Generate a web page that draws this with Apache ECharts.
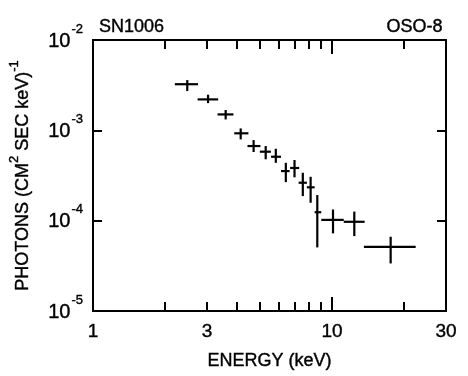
<!DOCTYPE html>
<html>
<head>
<meta charset="utf-8">
<script src="https://cdn.jsdelivr.net/npm/echarts@6/dist/echarts.min.js"></script>
<style>html,body{margin:0;padding:0;background:#fff}#chart{width:468px;height:376px}</style>
</head>
<body>
<div id="chart"></div>
<script>
// SN1006 spectrum, OSO-8
var energy     = [2.48, 3.03, 3.59, 4.15, 4.70, 5.28, 5.82, 6.41, 6.97, 7.55, 8.14, 8.68, 10.1, 12.4, 17.6];
var energyLow  = [2.20, 2.74, 3.32, 3.90, 4.43, 4.99, 5.56, 6.12, 6.68, 7.25, 7.85, 8.46, 9.02, 11.2, 13.6];
var energyHigh = [2.75, 3.34, 3.87, 4.47, 5.02, 5.55, 6.12, 6.65, 7.29, 7.85, 8.46, 9.02, 11.2, 13.7, 22.4];
var photons     = [3.24e-3, 2.2e-3, 1.5e-3, 9.27e-4, 6.7e-4, 5.8e-4, 5.1e-4, 3.54e-4, 3.83e-4, 2.63e-4, 2.34e-4, 1.24e-4, 1.02e-4, 9.72e-5, 5.14e-5];
var photonsLow  = [2.72e-3, 2.0e-3, 1.32e-3, 7.94e-4, 5.75e-4, 4.78e-4, 4.37e-4, 2.67e-4, 3.02e-4, 1.87e-4, 1.58e-4, 5.06e-5, 7.23e-5, 6.75e-5, 3.36e-5];
var photonsHigh = [3.6e-3, 2.48e-3, 1.68e-3, 1.05e-3, 7.8e-4, 6.7e-4, 6.25e-4, 4.37e-4, 4.69e-4, 3.39e-4, 3.06e-4, 1.92e-4, 1.33e-4, 1.26e-4, 6.64e-5];

var xLabels = [1, 3, 10, 30];
var xMinorTicks = [2, 3, 4, 5, 6, 7, 8, 9, 20];
var xMajorTicks = [10];
var yLabels = [1e-5, 1e-4, 1e-3, 1e-2];
var yTicks = [1e-4, 1e-3];

var FONT = '"Liberation Sans", Arial, sans-serif';
var lineStyle = { color: '#000', width: 2 };
// the original lettering is heavy, thicken the glyphs a little
var ink = { color: '#000', fontFamily: FONT, textBorderColor: '#000', textBorderWidth: 0.4 };

function txt(extra) {
    return Object.assign({}, ink, extra);
}

function xAxisCfg(pos, ticks, len, withLabels) {
    var cfg = {
        type: 'log', min: 1, max: 30, position: pos,
        axisLine: { show: true, lineStyle: lineStyle },
        axisTick: { show: true, inside: true, length: len, customValues: ticks, lineStyle: lineStyle },
        axisLabel: { show: false },
        splitLine: { show: false }
    };
    if (withLabels) {
        cfg.axisLabel = txt({
            show: true, customValues: xLabels, margin: 11, fontSize: 19,
            formatter: function (v) { return String(Math.round(v)); }
        });
        cfg.name = 'ENERGY (keV)';
        cfg.nameLocation = 'middle';
        cfg.nameGap = 41;
        cfg.nameTextStyle = txt({ fontSize: 18 });
    }
    return cfg;
}

function yAxisCfg(pos, withLabels) {
    var cfg = {
        type: 'log', min: 1e-5, max: 1e-2, position: pos,
        axisLine: { show: true, lineStyle: lineStyle },
        axisTick: { show: true, inside: true, length: 9, customValues: yTicks, lineStyle: lineStyle },
        axisLabel: { show: false },
        splitLine: { show: false }
    };
    if (withLabels) {
        cfg.axisLabel = {
            show: true, customValues: yLabels, margin: 10,
            formatter: function (v) { return '{b|10}{s|' + Math.round(Math.log10(v)) + '}'; },
            rich: {
                b: txt({ fontSize: 20, lineHeight: 20, padding: [2, 1, 0, 0] }),
                s: txt({ fontSize: 13, lineHeight: 13, padding: [0, 0, 22, 0] })
            }
        };
        cfg.name = 'PHOTONS (CM{s|2} SEC keV){s|-1}';
        cfg.nameLocation = 'middle';
        cfg.nameRotate = 90;
        cfg.nameGap = 58;
        cfg.nameTextStyle = txt({
            fontSize: 18, lineHeight: 18,
            rich: { s: txt({ fontSize: 13, lineHeight: 13, padding: [0, 0, 16, 0] }) }
        });
    }
    return cfg;
}

var points = energy.map(function (e, i) {
    return [e, photons[i], energyLow[i], energyHigh[i], photonsLow[i], photonsHigh[i]];
});

var chart = echarts.init(document.getElementById('chart'));
chart.setOption({
    animation: false,
    backgroundColor: '#fff',
    title: [
        { text: 'SN1006', left: 99, top: 18, padding: 0, textStyle: txt({ fontSize: 18, fontWeight: 'normal' }) },
        { text: 'OSO-8', right: 25, top: 18, padding: 0, textStyle: txt({ fontSize: 18, fontWeight: 'normal' }) }
    ],
    grid: { left: 93, right: 22, top: 40, bottom: 65, outerBoundsMode: 'none' },
    xAxis: [
        xAxisCfg('bottom', xMinorTicks, 9, true),
        xAxisCfg('bottom', xMajorTicks, 14, false),
        xAxisCfg('top', xMinorTicks, 9, false),
        xAxisCfg('top', xMajorTicks, 14, false)
    ],
    yAxis: [yAxisCfg('left', true), yAxisCfg('right', false)],
    series: [{
        type: 'custom',
        xAxisIndex: 0,
        yAxisIndex: 0,
        data: points,
        encode: { x: [0, 2, 3], y: [1, 4, 5] },
        renderItem: function (params, api) {
            var c = api.coord([api.value(0), api.value(1)]);
            var l = api.coord([api.value(2), api.value(1)]);
            var r = api.coord([api.value(3), api.value(1)]);
            var lo = api.coord([api.value(0), api.value(4)]);
            var hi = api.coord([api.value(0), api.value(5)]);
            var st = { stroke: '#000', lineWidth: 2.2 };
            return {
                type: 'group',
                children: [
                    { type: 'line', shape: { x1: l[0], y1: c[1], x2: r[0], y2: c[1] }, style: st },
                    { type: 'line', shape: { x1: c[0], y1: hi[1], x2: c[0], y2: lo[1] }, style: st }
                ]
            };
        }
    }]
});
</script>
</body>
</html>
